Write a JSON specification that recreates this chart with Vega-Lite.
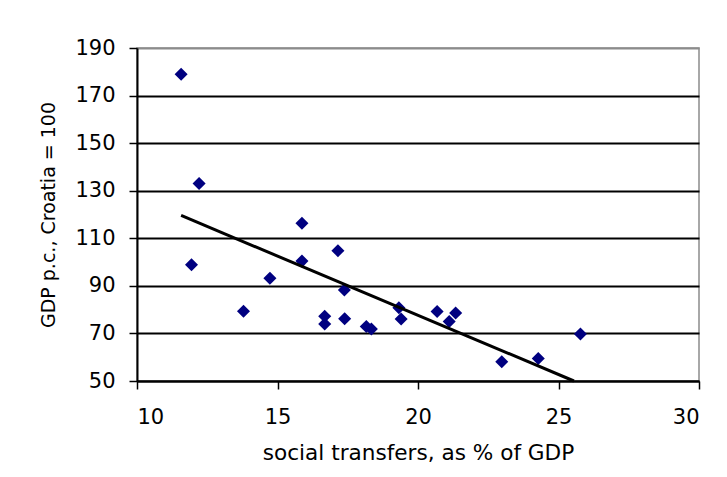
{
  "$schema": "https://vega.github.io/schema/vega-lite/v6.json",
  "width": 562,
  "height": 333,
  "autosize": {"type": "none"},
  "padding": {"left": 137, "top": 48, "right": 28, "bottom": 96},
  "background": "white",
  "config": {
    "view": {"stroke": "#8c8c8c", "strokeWidth": 1.5},
    "font": "DejaVu Sans"
  },
  "layer": [
    {
      "data": {
        "values": [
          {"transfers": 11.57, "gdp": 179.0},
          {"transfers": 12.21, "gdp": 133.0},
          {"transfers": 11.94, "gdp": 98.9},
          {"transfers": 13.79, "gdp": 79.3},
          {"transfers": 14.73, "gdp": 93.2},
          {"transfers": 15.87, "gdp": 116.3},
          {"transfers": 15.87, "gdp": 100.4},
          {"transfers": 17.15, "gdp": 104.8},
          {"transfers": 17.38, "gdp": 88.3},
          {"transfers": 17.39, "gdp": 76.2},
          {"transfers": 16.68, "gdp": 77.2},
          {"transfers": 16.68, "gdp": 74.0},
          {"transfers": 18.16, "gdp": 72.9},
          {"transfers": 18.34, "gdp": 71.9},
          {"transfers": 19.32, "gdp": 80.8},
          {"transfers": 19.40, "gdp": 76.1},
          {"transfers": 20.68, "gdp": 79.2},
          {"transfers": 21.11, "gdp": 75.0},
          {"transfers": 21.34, "gdp": 78.6},
          {"transfers": 22.98, "gdp": 58.1},
          {"transfers": 24.28, "gdp": 59.5},
          {"transfers": 25.78, "gdp": 69.8}
        ]
      },
      "mark": {"type": "point", "shape": "diamond", "filled": true, "color": "#000080", "size": 170, "opacity": 1, "strokeWidth": 0},
      "encoding": {
        "x": {
          "field": "transfers",
          "type": "quantitative",
          "scale": {"domain": [10, 30], "nice": false, "zero": false},
          "axis": {
            "values": [10, 15, 20, 25, 30],
            "grid": false,
            "domainColor": "#000",
            "domainWidth": 2,
            "tickColor": "#000",
            "tickWidth": 1.5,
            "tickSize": 8,
            "labelFont": "DejaVu Sans",
            "labelFontSize": 21,
            "labelColor": "#000",
            "labelPadding": 17.5,
            "title": "social transfers, as % of GDP",
            "titleFont": "DejaVu Sans",
            "titleFontSize": 21.6,
            "titleFontWeight": "normal",
            "titleColor": "#000",
            "titlePadding": 14.5
          }
        },
        "y": {
          "field": "gdp",
          "type": "quantitative",
          "scale": {"domain": [50, 190], "nice": false, "zero": false},
          "axis": {
            "values": [50, 70, 90, 110, 130, 150, 170, 190],
            "grid": true,
            "gridColor": {"condition": {"test": "datum.value == 190", "value": "#8c8c8c"}, "value": "#000"},
            "gridWidth": 2,
            "domainColor": "#000",
            "domainWidth": 2,
            "tickColor": "#000",
            "tickWidth": 1.5,
            "tickSize": 8,
            "labelFont": "DejaVu Sans",
            "labelFontSize": 21,
            "labelColor": "#000",
            "labelPadding": 14,
            "title": "GDP p.c., Croatia = 100",
            "titleFont": "DejaVu Sans",
            "titleFontSize": 19,
            "titleFontWeight": "normal",
            "titleColor": "#000",
            "titlePadding": 16
          }
        }
      }
    },
    {
      "data": {
        "values": [
          {"transfers": 11.57, "gdp": 119.6},
          {"transfers": 25.55, "gdp": 50}
        ]
      },
      "mark": {"type": "line", "color": "#000", "strokeWidth": 3},
      "encoding": {
        "x": {"field": "transfers", "type": "quantitative"},
        "y": {"field": "gdp", "type": "quantitative"}
      }
    }
  ]
}
